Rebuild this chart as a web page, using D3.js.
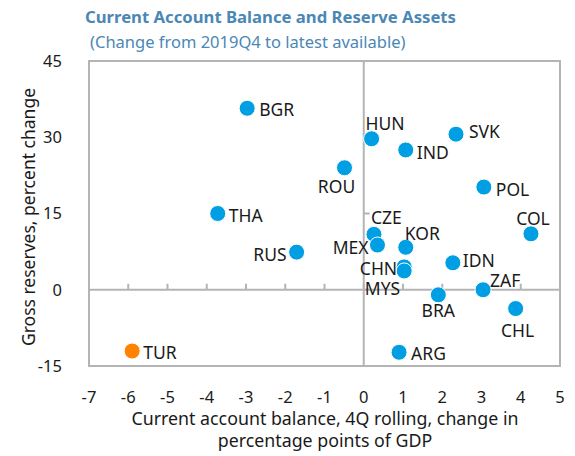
<!DOCTYPE html>
<html>
<head>
<meta charset="utf-8">
<script src="https://cdn.jsdelivr.net/npm/d3@7"></script>
<style>
  body { margin: 0; background: #fff; }
  svg text { font-family: "Noto Sans", "Open Sans", sans-serif; }
</style>
</head>
<body>
<script>
// country codes, current account change (x), reserves change (y)
var countries = ["BGR", "THA", "RUS", "TUR", "HUN", "IND", "SVK", "ROU", "POL", "COL",
                 "CZE", "MEX", "KOR", "IDN", "CHN", "MYS", "ZAF", "BRA", "CHL", "ARG"];
var caChange = [-2.97, -3.72, -1.71, -5.9, 0.2, 1.07, 2.35, -0.49, 3.06, 4.26,
                0.26, 0.35, 1.07, 2.27, 1.03, 1.03, 3.04, 1.9, 3.87, 0.9];
var resChange = [35.7, 15.0, 7.4, -12.05, 29.7, 27.5, 30.6, 24.0, 20.2, 11.0,
                 10.9, 8.8, 8.35, 5.3, 4.5, 3.7, 0.0, -1.0, -3.7, -12.3];
var highlight = ["TUR"];
var xTicks = [-7, -6, -5, -4, -3, -2, -1, 0, 1, 2, 3, 4, 5];
var yTicks = [-15, 0, 15, 30, 45];

// label placement: anchor, dx, dy (baseline) relative to the dot
var labelPlace = {
  BGR: ["start", 12, 8], THA: ["start", 11, 8], RUS: ["end", -10, 8.5], TUR: ["start", 11, 8],
  HUN: ["start", -6, -9], IND: ["start", 11, 9], SVK: ["start", 13, 4], ROU: ["middle", -8, 25],
  POL: ["start", 12, 8.5], COL: ["middle", 2, -9], CZE: ["start", -3, -10], MEX: ["end", -9, 9],
  KOR: ["start", -1, -7], IDN: ["start", 10, 4], CHN: ["end", -7, 8], MYS: ["end", -4, 24],
  ZAF: ["start", 7, -3], BRA: ["middle", 0, 22], CHL: ["middle", 2, 28], ARG: ["start", 12, 8]
};

var width = 575, height = 456;
var plotLeft = 89, plotRight = 560, plotTop = 61, plotBottom = 366;
var blue = "#009fe3", orange = "#ff8200", grid = "#b4b4b4", ink = "#1a1a1a";

var svg = d3.select("body").append("svg")
    .attr("width", width)
    .attr("height", height);

var x = d3.scaleLinear().domain([-7, 5]).range([plotLeft, plotRight]);
var y = d3.scaleLinear().domain([-15, 45]).range([plotBottom, plotTop]);

svg.append("text")
    .attr("x", 85).attr("y", 23)
    .attr("font-size", 16.7).attr("font-weight", "bold")
    .attr("fill", "#4b87b5")
    .text("Current Account Balance and Reserve Assets");
svg.append("text")
    .attr("x", 90).attr("y", 48)
    .attr("font-size", 16.5)
    .attr("fill", "#4b87b5")
    .text("(Change from 2019Q4 to latest available)");

// frame
svg.append("rect")
    .attr("x", plotLeft).attr("y", plotTop)
    .attr("width", plotRight - plotLeft).attr("height", plotBottom - plotTop)
    .attr("fill", "none").attr("stroke", grid).attr("stroke-width", 2);

// zero lines
svg.append("line")
    .attr("x1", plotLeft).attr("x2", plotRight)
    .attr("y1", y(0)).attr("y2", y(0))
    .attr("stroke", grid).attr("stroke-width", 2);
svg.append("line")
    .attr("x1", x(0)).attr("x2", x(0))
    .attr("y1", plotTop).attr("y2", plotBottom)
    .attr("stroke", grid).attr("stroke-width", 2);

// ticks on the zero lines
svg.selectAll(".xtick")
    .data(xTicks)
    .enter()
    .append("line")
    .attr("class", "xtick")
    .attr("x1", function(d) { return x(d); })
    .attr("x2", function(d) { return x(d); })
    .attr("y1", y(0)).attr("y2", y(0) - 6)
    .attr("stroke", grid).attr("stroke-width", 2);
svg.selectAll(".ytick")
    .data(yTicks)
    .enter()
    .append("line")
    .attr("class", "ytick")
    .attr("x1", x(0)).attr("x2", x(0) + 6)
    .attr("y1", function(d) { return y(d); })
    .attr("y2", function(d) { return y(d); })
    .attr("stroke", grid).attr("stroke-width", 2);

// tick labels
svg.selectAll(".xlab")
    .data(xTicks)
    .enter()
    .append("text")
    .attr("class", "xlab")
    .attr("x", function(d) { return x(d); })
    .attr("y", 403)
    .attr("text-anchor", "middle")
    .attr("font-size", 16.5)
    .attr("fill", ink)
    .text(function(d) { return d; });
svg.selectAll(".ylab")
    .data(yTicks)
    .enter()
    .append("text")
    .attr("class", "ylab")
    .attr("x", 62)
    .attr("y", function(d) { return y(d); })
    .attr("dy", "0.36em")
    .attr("text-anchor", "end")
    .attr("font-size", 16.5)
    .attr("fill", ink)
    .text(function(d) { return d; });

// axis titles
svg.append("text")
    .attr("transform", "translate(35,217) rotate(-90)")
    .attr("text-anchor", "middle")
    .attr("font-size", 17.5)
    .attr("fill", ink)
    .text("Gross reserves, percent change");
svg.append("text")
    .attr("x", 325).attr("y", 425)
    .attr("text-anchor", "middle")
    .attr("font-size", 17.8)
    .attr("fill", ink)
    .text("Current account balance, 4Q rolling, change in");
svg.append("text")
    .attr("x", 325).attr("y", 447)
    .attr("text-anchor", "middle")
    .attr("font-size", 17.8)
    .attr("fill", ink)
    .text("percentage points of GDP");

var points = countries.map(function(c, i) {
    return { code: c, x: caChange[i], y: resChange[i] };
});

svg.selectAll(".dot")
    .data(points)
    .enter()
    .append("circle")
    .attr("class", "dot")
    .attr("cx", function(d) { return x(d.x); })
    .attr("cy", function(d) { return y(d.y); })
    .attr("r", 8)
    .attr("fill", function(d) { return highlight.indexOf(d.code) >= 0 ? orange : blue; })
    .attr("stroke", "#fff")
    .attr("stroke-width", 1);

svg.selectAll(".lab")
    .data(points)
    .enter()
    .append("text")
    .attr("class", "lab")
    .attr("x", function(d) { return x(d.x) + labelPlace[d.code][1]; })
    .attr("y", function(d) { return y(d.y) + labelPlace[d.code][2]; })
    .attr("text-anchor", function(d) { return labelPlace[d.code][0]; })
    .attr("font-size", 17.5)
    .attr("fill", ink)
    .text(function(d) { return d.code; });
</script>
</body>
</html>
